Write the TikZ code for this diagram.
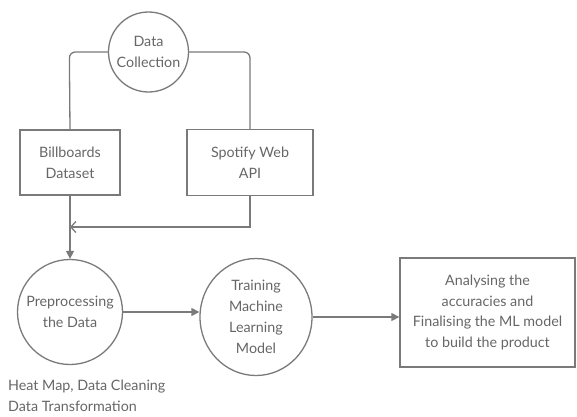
\documentclass[tikz,border=0pt]{standalone}
\usepackage{fontspec}
\setmainfont{Lato}
\usetikzlibrary{arrows.meta,shapes.geometric}
\definecolor{ln}{HTML}{7A7A7A}
\definecolor{tx}{HTML}{666666}
\begin{document}
\begin{tikzpicture}[x=1pt,y=-1pt,
  every node/.style={text=tx, font=\fontsize{14.3}{20.8}\selectfont, align=center, inner sep=0pt},
  circ/.style={draw=ln, line width=1.3pt, circle, minimum size=#1},
  ell/.style={draw=ln, line width=1.3pt, ellipse},
  boxn/.style={draw=ln, line width=1.3pt, rectangle},
  conn/.style={draw=ln, line width=1.3pt},
  fa/.style={-{Triangle[length=8pt,width=8pt]}},
  oa/.style={-{Straight Barb[length=5pt,width=11pt,line width=1.3pt]}}
]
\useasboundingbox (0,0) rectangle (577,416);
\node[circ=80pt] (dc) at (148.5,52) {Data\\Collection};
\node[boxn, minimum width=100pt, minimum height=65pt] (bb) at (70,162.5) {Billboards\\Dataset};
\node[boxn, minimum width=126pt, minimum height=66pt] (sp) at (250,162.5) {Spotify Web\\API};
\node[circ=105pt] (pre) at (70,312) {Preprocessing\\the Data};
\node[ell, minimum width=112pt, minimum height=117pt] (tr) at (256,317) {Training\\Machine\\Learning\\Model};
\node[boxn, minimum width=175pt, minimum height=109pt] (an) at (487.5,312.5) {Analysing the\\accuracies and\\Finalising the ML model\\to build the product};
\node[align=left, anchor=north west] (note) at (8,380) {Heat Map, Data Cleaning\\Data Transformation};
\coordinate (j) at (70,227);
\draw[conn, rounded corners=6pt] (dc.west) -- ++(-38.5,0) -- (bb.north);
\draw[conn, rounded corners=6pt] (dc.east) -- (250,52) -- (sp.north);
\draw[conn, oa] (sp.south) |- (j);
\draw[conn, fa] (bb.south) -- (pre.north);
\draw[conn, fa] (pre.east) -- (tr.west |- pre.east);
\draw[conn, fa] (tr.east |- 0,317) -- (an.west |- 0,317);
\end{tikzpicture}
\end{document}
